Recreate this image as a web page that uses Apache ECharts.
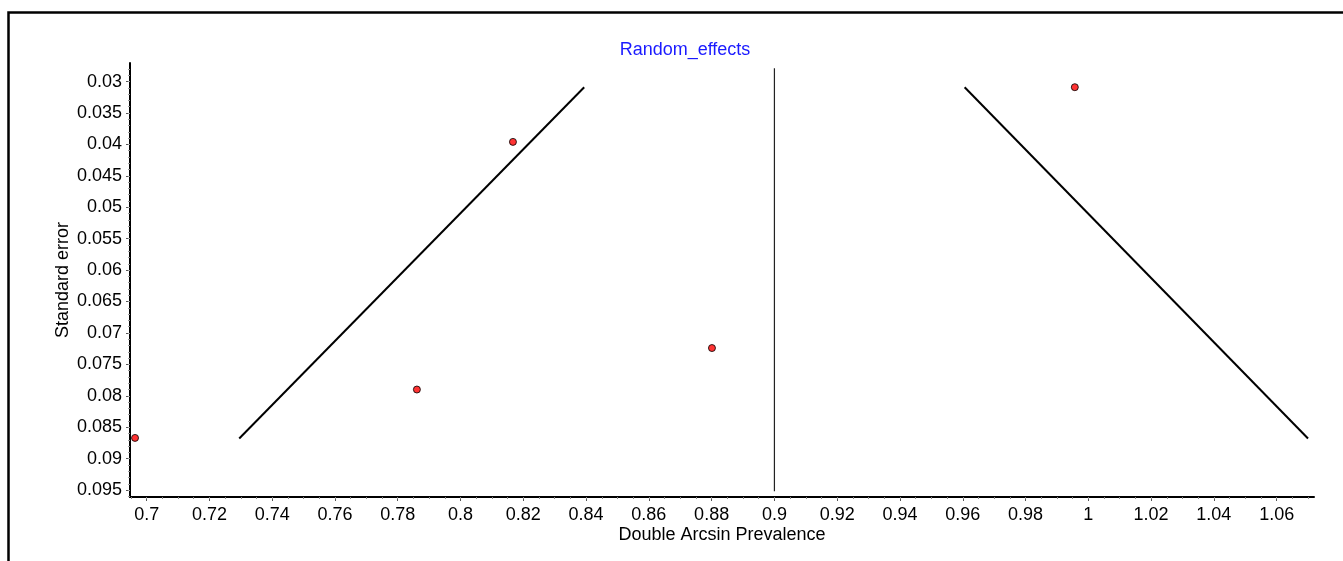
<!DOCTYPE html>
<html>
<head>
<meta charset="utf-8">
<script src="https://cdn.jsdelivr.net/npm/echarts@6/dist/echarts.min.js"></script>
<style>html,body{margin:0;padding:0;background:#fff}#c{width:1343px;height:561px}</style>
</head>
<body>
<div id="c"></div>
<script>
// ---- data ----
var studyPoints = [
  [0.6963, 0.0867],
  [0.7861, 0.0790],
  [0.8167, 0.0396],
  [0.8801, 0.0724],
  [0.9957, 0.0309]
];
var funnelLeft = [[0.7295, 0.0868], [0.8394, 0.0309]];
var funnelRight = [[0.9606, 0.0309], [1.0700, 0.0868]];
var centerLine = [[0.9, 0.0279], [0.9, 0.0952]];
var xTicks = [0.7, 0.72, 0.74, 0.76, 0.78, 0.8, 0.82, 0.84, 0.86, 0.88, 0.9, 0.92, 0.94, 0.96, 0.98, 1, 1.02, 1.04, 1.06];
var yTicks = [0.03, 0.035, 0.04, 0.045, 0.05, 0.055, 0.06, 0.065, 0.07, 0.075, 0.08, 0.085, 0.09, 0.095];
var xRange = [0.6947, 1.0719];
var yRange = [0.02705, 0.0961];
var titleText = 'Random_effects';
var xName = 'Double Arcsin Prevalence';
var yName = 'Standard error';

// minor tick positions (axis decoration only)
function minors(ticks, n, lo, hi) {
  var step = (ticks[1] - ticks[0]) / n, out = [];
  for (var v = ticks[0] - 10 * n * step; v <= hi + 1e-9; v += step) {
    var r = Math.round(v * 1e6) / 1e6;
    if (r >= lo && r <= hi) out.push(r);
  }
  return out;
}
var xMinor = minors(xTicks, 4, xRange[0], xRange[1]);
var yMinor = minors(yTicks, 5, yRange[0], yRange[1]);

var font = 'Liberation Sans, Arial, sans-serif';
var fs = 18;
var chart = echarts.init(document.getElementById('c'), null, {renderer: 'canvas'});
var gridPos = {left: 130, right: 29, top: 63, bottom: 64};

function fmt(v) { return String(Math.round(v * 1e6) / 1e6); }

chart.setOption({
  animation: false,
  backgroundColor: '#ffffff',
  title: {
    text: titleText, left: 680, top: 36, textAlign: 'center',
    textStyle: {color: '#1a1aff', fontFamily: font, fontSize: fs, fontWeight: 'normal'}
  },
  grid: gridPos,
  graphic: [{
    type: 'rect', z: 100, silent: true,
    shape: {x: 8.5, y: 12.5, width: 1400, height: 700},
    style: {fill: 'none', stroke: '#000', lineWidth: 2.5}
  }],
  xAxis: [{
    type: 'value', min: xRange[0], max: xRange[1],
    name: xName, nameLocation: 'middle', nameGap: 29, nameMoveOverlap: false,
    nameTextStyle: {color: '#000', fontFamily: font, fontSize: fs},
    splitLine: {show: false},
    axisLine: {show: true, onZero: false, lineStyle: {color: '#000', width: 2}},
    axisTick: {show: true, length: 4, customValues: xTicks, lineStyle: {color: '#555', width: 1}},
    axisLabel: {show: true, customValues: xTicks, color: '#000', fontFamily: font, fontSize: fs, margin: 9, formatter: fmt}
  }, {
    type: 'value', min: xRange[0], max: xRange[1], position: 'bottom',
    splitLine: {show: false},
    axisLine: {show: false},
    axisTick: {show: true, length: 2, customValues: xMinor, lineStyle: {color: '#888', width: 1}},
    axisLabel: {show: false}
  }],
  yAxis: [{
    type: 'value', inverse: true, min: yRange[0], max: yRange[1],
    name: yName, nameLocation: 'middle', nameGap: 58, nameRotate: 90, nameMoveOverlap: false,
    nameTextStyle: {color: '#000', fontFamily: font, fontSize: fs},
    splitLine: {show: false},
    axisLine: {show: true, onZero: false, lineStyle: {color: '#000', width: 2}},
    axisTick: {show: true, length: 4, customValues: yTicks, lineStyle: {color: '#555', width: 1}},
    axisLabel: {show: true, customValues: yTicks, color: '#000', fontFamily: font, fontSize: fs, margin: 8, formatter: fmt}
  }, {
    type: 'value', inverse: true, min: yRange[0], max: yRange[1], position: 'left',
    splitLine: {show: false},
    axisLine: {show: false},
    axisTick: {show: true, length: 2, customValues: yMinor, lineStyle: {color: '#999', width: 1}},
    axisLabel: {show: false}
  }],
  series: [{
    type: 'line', data: centerLine, symbol: 'none', silent: true,
    lineStyle: {color: '#222', width: 1.2}
  }, {
    type: 'line', data: funnelLeft, symbol: 'none', silent: true,
    lineStyle: {color: '#000', width: 2}
  }, {
    type: 'line', data: funnelRight, symbol: 'none', silent: true,
    lineStyle: {color: '#000', width: 2}
  }, {
    type: 'scatter', data: studyPoints, symbol: 'circle', symbolSize: 7, z: 5,
    itemStyle: {color: '#ff0000', borderColor: '#000', borderWidth: 1}
  }]
});
</script>
</body>
</html>
